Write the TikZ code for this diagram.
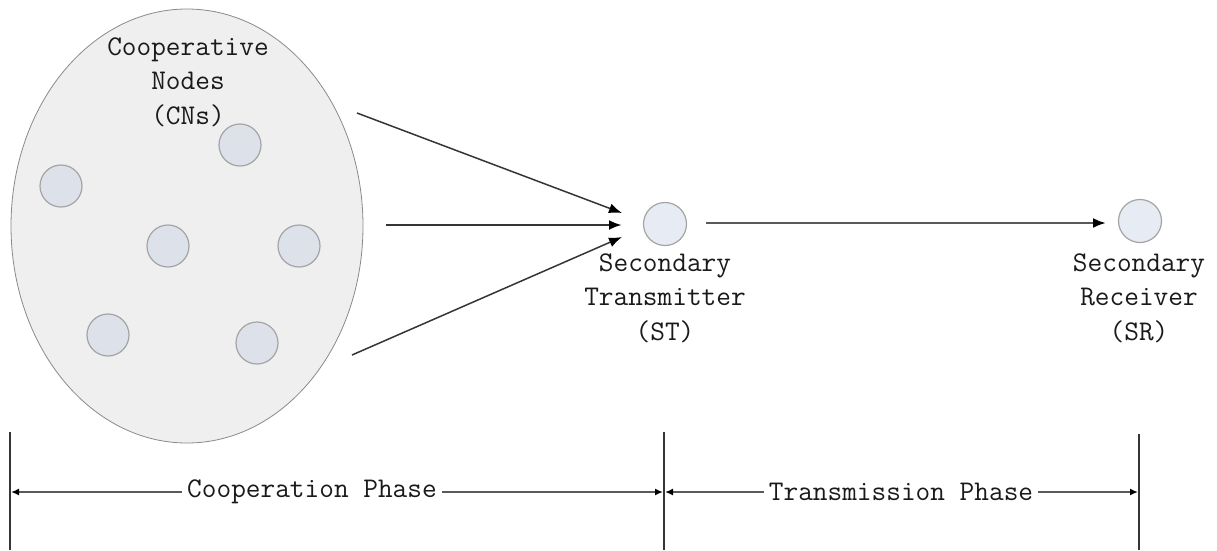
\documentclass[tikz,border=0pt]{standalone}
\usetikzlibrary{arrows.meta,shapes.geometric}
\definecolor{ellfill}{HTML}{EFEFEF}
\definecolor{elldraw}{HTML}{8A8A8A}
\definecolor{cnfill}{HTML}{DDE2EA}
\definecolor{cndraw}{HTML}{A4A4A4}
\definecolor{sfill}{HTML}{E6EBF4}
\definecolor{linec}{HTML}{353535}
\definecolor{greyline}{HTML}{5A5A5A}
\definecolor{txtc}{HTML}{1A1A1A}
\begin{document}
\begin{tikzpicture}[x=1pt,y=-1pt,
  lbl/.style={font=\fontsize{28.5}{34.5}\selectfont\ttfamily, text=txtc, align=center, inner sep=0pt},
  cnnode/.style={circle, minimum size=42pt, inner sep=0pt, fill=cnfill, draw=cndraw, line width=1.2pt},
  snode/.style={circle, minimum size=43pt, inner sep=0pt, fill=sfill, draw=cndraw, line width=1.2pt},
  mainarrow/.style={draw=linec, line width=1.5pt, -{Latex[length=13pt,width=10pt,color=black]}},
  phasearrow/.style={draw=greyline, line width=1.8pt, -{Latex[length=8pt,width=7pt,color=black]}},
  vline/.style={draw=linec, line width=1.3pt}]
\useasboundingbox (0,0) rectangle (1217,550);
\fill[white] (0,0) rectangle (1217,550);
% cooperative nodes cluster
\node[ellipse, minimum width=352pt, minimum height=434pt, fill=ellfill, draw=elldraw, line width=0.8pt, inner sep=0pt] (cn) at (187,226) {};
\node[lbl] (cnlbl) at (188,82) {Cooperative\\Nodes\\(CNs)};
\node[cnnode] (c1) at (240,145) {};
\node[cnnode] (c2) at (61,186) {};
\node[cnnode] (c3) at (168,246) {};
\node[cnnode] (c4) at (299,246) {};
\node[cnnode] (c5) at (108,335) {};
\node[cnnode] (c6) at (257,343) {};
% secondary transmitter / receiver
\node[snode] (st) at (665,224) {};
\node[snode] (sr) at (1140,221) {};
\node[lbl] (stlbl) at (665,298) {Secondary\\Transmitter\\(ST)};
\node[lbl] (srlbl) at (1139,298) {Secondary\\Receiver\\(SR)};
% arrows from cluster to ST
\coordinate (s1) at (357,113);
\coordinate (s2) at (386,225);
\coordinate (s3) at (352,355);
\coordinate (t1) at (622,213);
\coordinate (t2) at (622,225);
\coordinate (t3) at (622,237);
\draw[mainarrow] (s1) -- (t1);
\draw[mainarrow, line width=2.8pt] (s2) -- (t2);
\draw[mainarrow] (s3) -- (t3);
% ST to SR
\coordinate (u1) at (706,223);
\coordinate (u2) at (1106,223);
\draw[mainarrow, draw=greyline, line width=2.4pt] (u1) -- (u2);
% phase markers
\coordinate (v1a) at (10,432);
\coordinate (v1b) at (10,550);
\coordinate (v2a) at (664,432);
\coordinate (v2b) at (664,550);
\coordinate (v3a) at (1139,434);
\coordinate (v3b) at (1139,550);
\draw[vline] (v1a) -- (v1b);
\draw[vline] (v2a) -- (v2b);
\draw[vline] (v3a) -- (v3b);
\node[lbl, fill=white, inner xsep=5pt] (coop) at (312,492) {Cooperation Phase};
\node[lbl, fill=white, inner xsep=5pt] (trans) at (901,492) {Transmission Phase};
\coordinate (p1) at (11,492);
\coordinate (p2) at (663,492);
\coordinate (p3) at (665,492);
\coordinate (p4) at (1138,492);
\draw[phasearrow] (coop.west) -- (p1);
\draw[phasearrow] (coop.east) -- (p2);
\draw[phasearrow] (trans.west) -- (p3);
\draw[phasearrow] (trans.east) -- (p4);
\end{tikzpicture}
\end{document}
